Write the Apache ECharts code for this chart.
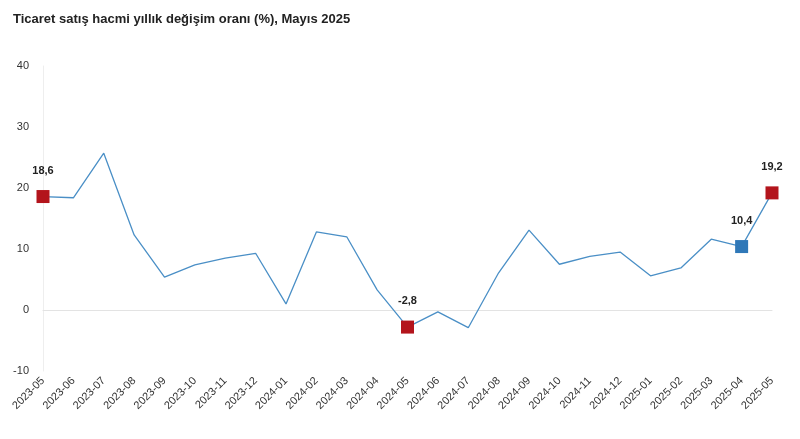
<!DOCTYPE html>
<html><head><meta charset="utf-8">
<script src="https://cdn.jsdelivr.net/npm/echarts@6/dist/echarts.min.js"></script>
<style>body{margin:0}#c{width:800px;height:439px}</style></head>
<body><div id="c"></div>
<script>
var months = ['2023-05','2023-06','2023-07','2023-08','2023-09','2023-10','2023-11','2023-12','2024-01','2024-02','2024-03','2024-04','2024-05','2024-06','2024-07','2024-08','2024-09','2024-10','2024-11','2024-12','2025-01','2025-02','2025-03','2025-04','2025-05'];
var values = [18.6,18.4,25.7,12.3,5.4,7.4,8.5,9.3,1.0,12.8,12.0,3.3,-2.8,-0.3,-2.9,6.1,13.1,7.5,8.8,9.5,5.6,6.9,11.6,10.4,19.2];
var redIdx = [0, 12, 24];
var blueIdx = [23];

var marks = values.map(function (v, i) {
  var red = redIdx.indexOf(i) >= 0, blue = blueIdx.indexOf(i) >= 0;
  if (!red && !blue) return { value: v, symbolSize: 0 };
  return {
    value: v, symbol: 'rect', symbolSize: 13,
    itemStyle: { color: red ? '#b3141c' : '#2f78b8' },
    label: { show: true, position: 'top', distance: 14, formatter: String(v).replace('.', ','),
      fontWeight: 'bold', fontSize: 11, color: '#222' }
  };
});

var chart = echarts.init(document.getElementById('c'));
chart.setOption({
  title: { text: 'Ticaret satış hacmi yıllık değişim oranı (%), Mayıs 2025', left: 8, top: 8,
    textStyle: { fontSize: 13, fontWeight: 'bold', color: '#222', fontFamily: 'Liberation Sans' } },
  grid: { left: 43, right: 28, top: 66, bottom: 68 },
  xAxis: {
    type: 'category', data: months, boundaryGap: false,
    axisLine: { onZero: true, lineStyle: { color: '#e3e3e3' } },
    axisTick: { show: false },
    axisLabel: { rotate: 45, color: '#333', fontSize: 11, interval: 0, margin: 8 }
  },
  yAxis: {
    type: 'value', min: -10, max: 40, interval: 10,
    axisLine: { show: true, lineStyle: { color: '#eeeeee' } },
    splitLine: { show: false },
    axisLabel: { color: '#333', fontSize: 11, margin: 14 }
  },
  series: [{
    type: 'line', data: marks, symbol: 'rect', showAllSymbol: true,
    lineStyle: { color: '#4a8fc6', width: 1.3 },
    itemStyle: { color: '#4a8fc6' }
  }]
});
</script></body></html>
